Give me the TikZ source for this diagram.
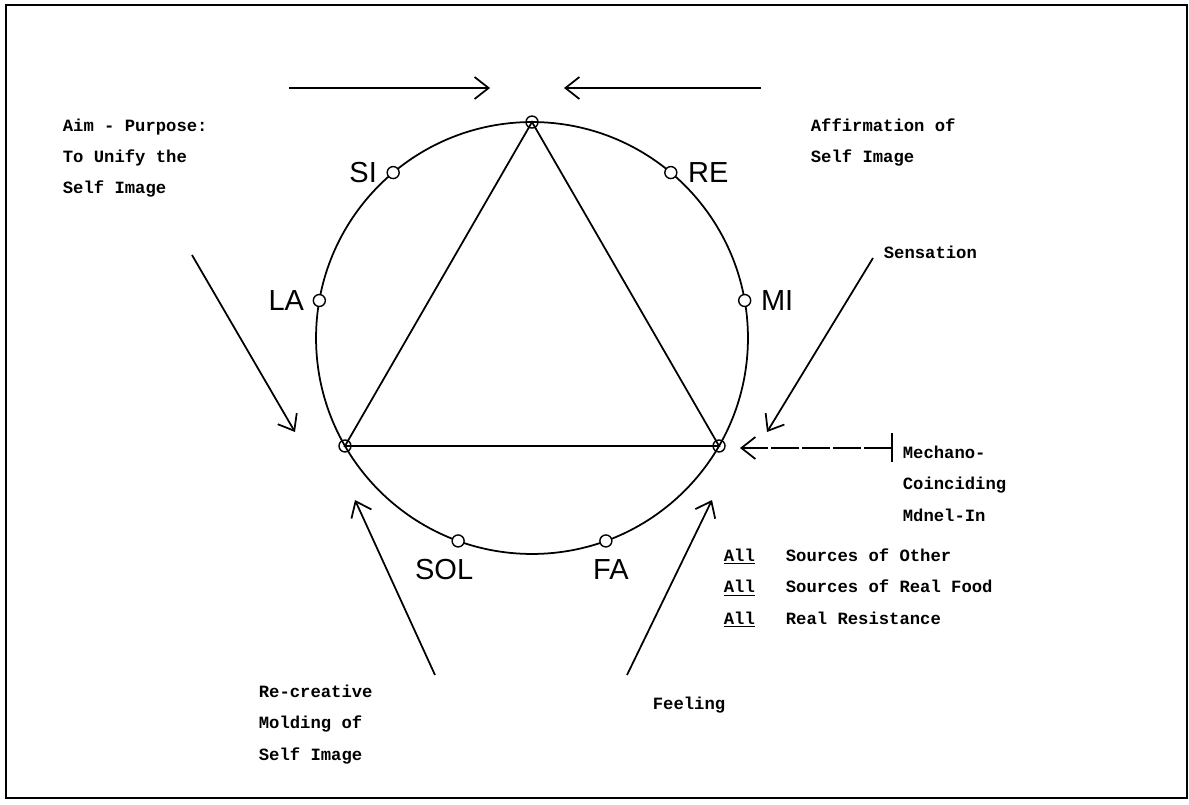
\documentclass[tikz,border=0pt]{standalone}
\usepackage{fontspec}
\usepackage{tikz}
\usetikzlibrary{positioning,arrows.meta,calc}
\newfontfamily\typefont{Liberation Mono}
\newfontfamily\plotfont{Liberation Sans}

\begin{document}
\begin{tikzpicture}[x=0.02cm,y=-0.02cm,>={Straight Barb[length=2.8mm,width=4.4mm]},line width=1pt,
  note/.style={circle,draw,fill=white,inner sep=0pt,minimum size=2.4mm,line width=0.8pt},
  vertex/.style={circle,draw,inner sep=0pt,minimum size=2.4mm,line width=0.8pt},
  notename/.style={font=\plotfont\fontsize{16.5}{16.5}\selectfont,inner sep=1pt},
  remark/.style={font=\typefont\bfseries\fontsize{9.8}{17.9}\selectfont,align=left,anchor=base west,inner sep=0pt}]
\useasboundingbox (0,0) rectangle (1189,804);
\draw[line width=1.2pt] (6,5) rectangle (1187,798);

% the circle of the octave and its triangle
\coordinate (c) at (532,338);
\draw (c) circle[radius=4.32cm];
\coordinate (top) at ($(c)+(90:4.32cm)$);
\coordinate (bl) at ($(c)+(210:4.32cm)$);
\coordinate (br) at ($(c)+(330:4.32cm)$);
\draw (top) -- (bl) -- (br) -- cycle;
\node[vertex] (vtop) at (top) {};
\node[vertex] (vbl) at (bl) {};
\node[vertex] (vbr) at (br) {};

% notes on the circle
\node[note] (si) at ($(c)+(130:4.32cm)$) {};
\node[note] (re) at ($(c)+(50:4.32cm)$) {};
\node[note] (la) at ($(c)+(170:4.32cm)$) {};
\node[note] (mi) at ($(c)+(10:4.32cm)$) {};
\node[note] (sol) at ($(c)+(250:4.32cm)$) {};
\node[note] (fa) at ($(c)+(290:4.32cm)$) {};
\node[notename,left=0.14cm of si] (siname) {SI};
\node[notename,right=0.16cm of re] (rename) {RE};
\node[notename,left=0.12cm of la] (laname) {LA};
\node[notename,right=0.14cm of mi] (miname) {MI};
\node[notename,below=0.18cm of sol,xshift=-0.28cm] (solname) {SOL};
\node[notename,below=0.18cm of fa,xshift=0.1cm] (faname) {FA};

% texts (base is the last line)
\node[remark] (aim) at (62,194) {Aim - Purpose:\\To Unify the\\Self Image};
\node[remark] (affirm) at (810,163) {Affirmation of\\Self Image};
\node[remark] (sensation) at (883,258) {Sensation};
\node[remark] (mechano) at (902,521) {Mechano-\\Coinciding\\Mdnel-In};
\node[remark] (sources) at (723,624) {\underline{All}\ \ \ Sources of Other\\\underline{All}\ \ \ Sources of Real Food\\\underline{All}\ \ \ Real Resistance};
\node[remark] (molding) at (258,760) {Re-creative\\Molding of\\Self Image};
\node[remark] (feeling) at (652,709) {Feeling};

% arrows
\coordinate (topl0) at (289,88);
\coordinate (topl1) at (490,88);
\coordinate (topr0) at (761,88);
\coordinate (topr1) at (564,88);
\coordinate (aim0) at (192,255);
\coordinate (aim1) at (295,432);
\coordinate (sens0) at (873,258);
\coordinate (sens1) at (767,432);
\coordinate (mech0) at (892,448);
\coordinate (mech1) at (740,448);
\coordinate (mold0) at (435,675);
\coordinate (mold1) at (355,500);
\coordinate (feel0) at (627,675);
\coordinate (feel1) at (712,500);
\draw[->] (topl0) -- (topl1);
\draw[->] (topr0) -- (topr1);
\draw[->] (aim0) -- (aim1);
\draw[->] (sens0) -- (sens1);
\draw[->,dash pattern=on 0.56cm off 0.06cm] (mech0) -- (mech1);
\draw ($(mech0)+(0,-15)$) -- ($(mech0)+(0,14)$);
\draw[->] (mold0) -- (mold1);
\draw[->] (feel0) -- (feel1);
\end{tikzpicture}
\end{document}
